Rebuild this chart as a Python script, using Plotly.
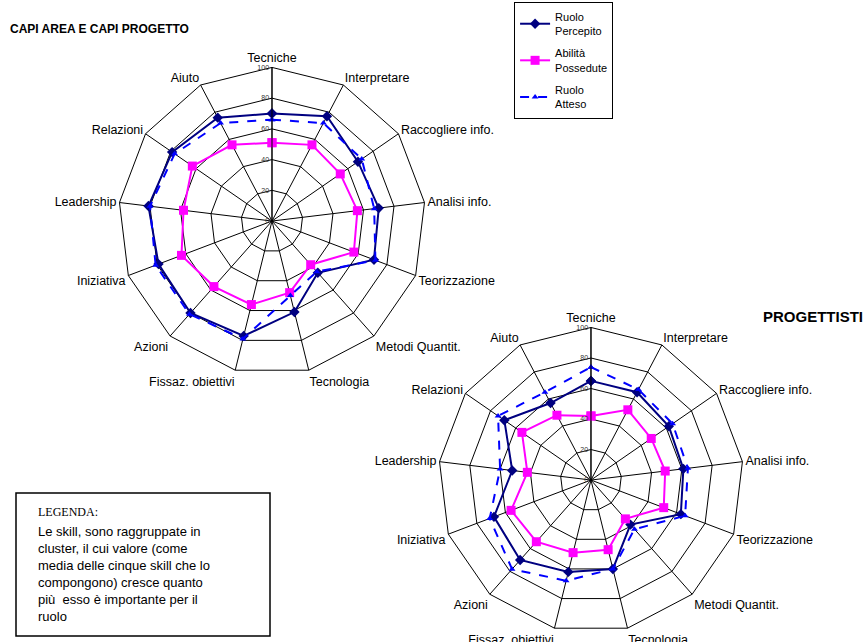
import plotly.graph_objects as go

categories = ["Tecniche", "Interpretare", "Raccogliere info.", "Analisi info.",
              "Teorizzazione", "Metodi Quantit.", "Tecnologia", "Fissaz. obiettivi",
              "Azioni", "Iniziativa", "Leadership", "Relazioni", "Aiuto"]

# Capi area e capi progetto
capi_percepito = [70, 77, 68, 70, 71, 45, 61, 77, 80, 79, 81, 79, 76]
capi_possedute = [51, 56, 54, 56, 57, 38, 48, 56, 57, 63, 58, 63, 56]
capi_atteso = [66, 72, 71, 67, 72, 44, 50, 79, 81, 81, 80, 77, 72]

# Progettisti
prog_percepito = [65, 65, 62, 61, 63, 39, 60, 62, 70, 68, 52, 69, 57]
prog_possedute = [42, 52, 48, 49, 51, 34, 47, 49, 54, 56, 42, 55, 48]
prog_atteso = [74, 67, 65, 64, 66, 43, 60, 68, 78, 71, 60, 74, 65]

radial_ticks = [0, 20, 40, 60, 80, 100]

NAVY = "#000080"
MAGENTA = "#FF00FF"
BLUE = "#0000FF"


def closed(vals):
    return list(vals) + [vals[0]]


theta = closed(categories)

fig = go.Figure()

series = [
    ("Ruolo<br>Percepito", NAVY, "solid", "diamond", 8, 2),
    ("Abilità<br>Possedute", MAGENTA, "solid", "square", 9, 2),
    ("Ruolo<br>Atteso", BLUE, "dash", "triangle-up", 6, 2),
]

for subplot, data in (("polar", (capi_percepito, capi_possedute, capi_atteso)),
                      ("polar2", (prog_percepito, prog_possedute, prog_atteso))):
    for i, ((name, color, dash, symbol, size, width), vals) in enumerate(zip(series, data)):
        fig.add_trace(go.Scatterpolar(
            r=closed(vals), theta=theta, subplot=subplot, name=name,
            legendgroup=f"g{i}",
            mode="lines+markers",
            line=dict(color=color, width=width, dash=dash),
            marker=dict(color=color, symbol=symbol, size=size),
            showlegend=(subplot == "polar"),
        ))

polar_style = dict(
    bgcolor="white",
    gridshape="linear",
    angularaxis=dict(
        direction="clockwise", rotation=90, categoryorder="array",
        categoryarray=categories, linecolor="black", linewidth=1,
        gridcolor="black", gridwidth=1, showline=True, ticks="",
        tickfont=dict(family="Liberation Sans, Arial", size=12.5, color="black"),
    ),
    radialaxis=dict(
        range=[0, 100], tickvals=radial_ticks, angle=90, tickangle=90,
        showline=True, linecolor="black", linewidth=1, ticks="",
        gridcolor="black", gridwidth=1, side="counterclockwise",
        tickfont=dict(family="Liberation Sans, Arial", size=7, color="#333333"),
    ),
)

fig.update_layout(
    width=864, height=642,
    margin=dict(l=0, r=0, t=0, b=0),
    paper_bgcolor="white",
    font=dict(family="Liberation Sans, Arial", color="black"),
    polar=dict(domain=dict(x=[0.1367, 0.4929], y=[0.4164, 0.895]), **polar_style),
    polar2=dict(domain=dict(x=[0.507, 0.861], y=[0.0146, 0.4899]), **polar_style),
    legend=dict(
        x=0.595, y=0.997, xanchor="left", yanchor="top",
        bordercolor="black", borderwidth=1, bgcolor="white",
        font=dict(size=11, color="black"), tracegroupgap=5,
        itemwidth=30,
    ),
    showlegend=True,
)

fig.add_annotation(
    text="<b>CAPI AREA E CAPI PROGETTO</b>", x=8 / 864, y=1 - 29 / 642,
    xref="paper", yref="paper", xanchor="left", yanchor="middle",
    showarrow=False, font=dict(size=12, color="black"),
)
fig.add_annotation(
    text="<b>PROGETTISTI</b>", x=761 / 864, y=1 - 316 / 642,
    xref="paper", yref="paper", xanchor="left", yanchor="middle",
    showarrow=False, font=dict(size=15, color="black"),
)

# Explanatory note box
fig.add_shape(
    type="rect", xref="paper", yref="paper",
    x0=16 / 864, x1=270 / 864, y0=1 - 636 / 642, y1=1 - 493 / 642,
    line=dict(color="black", width=1.5), fillcolor="white", layer="below",
)
fig.add_annotation(
    text="LEGENDA:",
    x=36 / 864, y=1 - 512 / 642, xref="paper", yref="paper",
    xanchor="left", yanchor="middle", showarrow=False,
    font=dict(size=12, color="black", family="Liberation Serif, Times New Roman"),
)
note_lines = ["Le skill, sono raggruppate in",
              "cluster, il cui valore (come",
              "media delle cinque skill che lo",
              "compongono) cresce quanto",
              "più  esso è importante per il",
              "ruolo"]
fig.add_annotation(
    text="<br>".join(note_lines),
    x=36 / 864, y=1 - 522 / 642, xref="paper", yref="paper",
    xanchor="left", yanchor="top", align="left", showarrow=False,
    font=dict(size=13, color="black"),
)

fig.write_html("out.html")
